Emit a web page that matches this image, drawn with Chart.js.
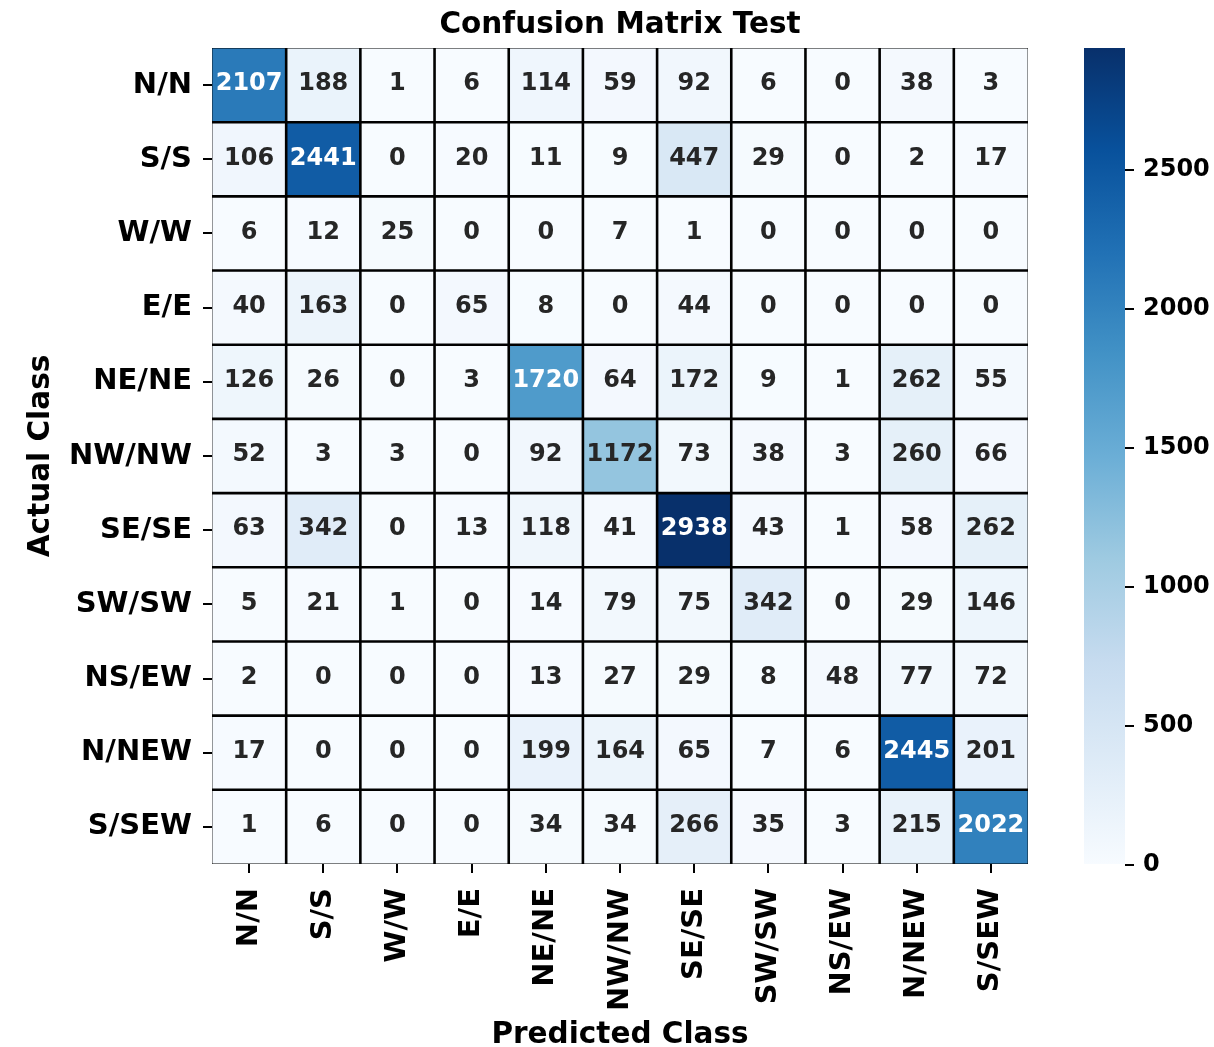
<!DOCTYPE html>
<html>
<head>
<meta charset="utf-8">
<script src="https://cdn.jsdelivr.net/npm/chart.js@4.4.1/dist/chart.umd.min.js"></script>
<style>
  html, body { margin: 0; padding: 0; background: #fff; }
  #wrap { position: relative; width: 1214px; height: 1047px; }
  #matrixChart { position: absolute; left: 0; top: 0; }
  #colorbarChart { position: absolute; left: 1040px; top: 0; }
</style>
</head>
<body>
<div id="wrap">
  <canvas id="matrixChart" width="1214" height="1047"></canvas>
  <canvas id="colorbarChart" width="174" height="1047"></canvas>
</div>
<script>
// Class names (same order for actual rows and predicted columns)
const classes = ['N/N', 'S/S', 'W/W', 'E/E', 'NE/NE', 'NW/NW', 'SE/SE', 'SW/SW', 'NS/EW', 'N/NEW', 'S/SEW'];

// Counts per actual class (one row each), columns = predicted class
const rowNN   = [2107, 188, 1, 6, 114, 59, 92, 6, 0, 38, 3];
const rowSS   = [106, 2441, 0, 20, 11, 9, 447, 29, 0, 2, 17];
const rowWW   = [6, 12, 25, 0, 0, 7, 1, 0, 0, 0, 0];
const rowEE   = [40, 163, 0, 65, 8, 0, 44, 0, 0, 0, 0];
const rowNENE = [126, 26, 0, 3, 1720, 64, 172, 9, 1, 262, 55];
const rowNWNW = [52, 3, 3, 0, 92, 1172, 73, 38, 3, 260, 66];
const rowSESE = [63, 342, 0, 13, 118, 41, 2938, 43, 1, 58, 262];
const rowSWSW = [5, 21, 1, 0, 14, 79, 75, 342, 0, 29, 146];
const rowNSEW = [2, 0, 0, 0, 13, 27, 29, 8, 48, 77, 72];
const rowNNEW = [17, 0, 0, 0, 199, 164, 65, 7, 6, 2445, 201];
const rowSSEW = [1, 6, 0, 0, 34, 34, 266, 35, 3, 215, 2022];

const matrix = [rowNN, rowSS, rowWW, rowEE, rowNENE, rowNWNW, rowSESE, rowSWSW, rowNSEW, rowNNEW, rowSSEW];

// Colorbar ticks
const cbarTicks = [0, 500, 1000, 1500, 2000, 2500];

// Blues colormap stops
const bluesStops = ['#f7fbff', '#deebf7', '#c6dbef', '#9ecae1', '#6baed6', '#4292c6', '#2171b5', '#08519c', '#08306b'];

const vMax = Math.max(...matrix.flat());
const nCls = classes.length;

Chart.defaults.font.family = "'DejaVu Sans', sans-serif";
Chart.defaults.font.weight = 'bold';
Chart.defaults.color = '#000';

const hexToRgb = h => [parseInt(h.slice(1, 3), 16), parseInt(h.slice(3, 5), 16), parseInt(h.slice(5, 7), 16)];

// Value -> rgb triplet on the Blues scale
const blues = (v) => {
    const t = Math.min(Math.max(v / vMax, 0), 1) * (bluesStops.length - 1);
    const i = Math.min(Math.floor(t), bluesStops.length - 2);
    const f = t - i;
    const a = hexToRgb(bluesStops[i]);
    const b = hexToRgb(bluesStops[i + 1]);
    return a.map((c, k) => Math.round(c + (b[k] - c) * f));
};
const rgbStr = c => `rgb(${c[0]},${c[1]},${c[2]})`;

// Relative luminance, used to pick the text colour like seaborn does
const luminance = (c) => {
    const l = c.map(x => {
        x /= 255;
        return x <= 0.03928 ? x / 12.92 : Math.pow((x + 0.055) / 1.055, 2.4);
    });
    return 0.2126 * l[0] + 0.7152 * l[1] + 0.0722 * l[2];
};

// Thick lines between cells, thin ones on the outer edge
const INNER = 1.9, OUTER = 1.0;
const cellBorder = (ctx) => {
    const row = ctx.datasetIndex, col = ctx.dataIndex;
    return {
        top: row === 0 ? OUTER : INNER,
        bottom: row === nCls - 1 ? OUTER : INNER,
        left: col === 0 ? OUTER : INNER,
        right: col === nCls - 1 ? OUTER : INNER
    };
};

// One stacked dataset per actual class, every cell is one unit tall
const datasets = matrix.map((row, i) => ({
    label: classes[i],
    data: row.map(() => 1),
    counts: row,
    backgroundColor: row.map(v => rgbStr(blues(v))),
    borderColor: '#000',
    borderWidth: cellBorder,
    borderSkipped: false,
    inflateAmount: 0.6,
    barPercentage: 1,
    categoryPercentage: 1
}));

// Write the count in the middle of each cell
const cellLabels = {
    id: 'cellLabels',
    afterDatasetsDraw(chart) {
        const ctx = chart.ctx;
        ctx.save();
        ctx.font = "bold 24px 'DejaVu Sans'";
        ctx.textAlign = 'center';
        ctx.textBaseline = 'middle';
        chart.data.datasets.forEach((ds, i) => {
            chart.getDatasetMeta(i).data.forEach((bar, j) => {
                const v = ds.counts[j];
                const {x, y, base} = bar.getProps(['x', 'y', 'base'], true);
                ctx.fillStyle = luminance(blues(v)) > 0.408 ? '#262626' : '#fff';
                ctx.fillText(String(v), x, (y + base) / 2 - 1);
            });
        });
        ctx.restore();
    }
};

const tickGrid = { offset: false, drawOnChartArea: false, color: '#000', lineWidth: 2, tickLength: 9 };

// Heatmap
new Chart(document.getElementById('matrixChart'), {
    type: 'bar',
    data: { labels: classes, datasets: datasets },
    options: {
        responsive: false,
        animation: false,
        events: [],
        layout: { padding: { left: 0, right: 186, top: 0, bottom: 0 } },
        plugins: {
            legend: { display: false },
            tooltip: { enabled: false },
            title: {
                display: true,
                fullSize: false,
                text: 'Confusion Matrix Test',
                color: '#000',
                font: { size: 29.5, weight: 'bold' },
                padding: { top: 7.3, bottom: 5.3 }
            }
        },
        scales: {
            x: {
                stacked: true,
                afterFit: s => { s.height = 183; },
                grid: tickGrid,
                border: { display: false },
                ticks: {
                    autoSkip: false,
                    minRotation: 90,
                    maxRotation: 90,
                    padding: 15,
                    color: '#000',
                    font: { size: 29, weight: 'bold' }
                },
                title: {
                    display: true,
                    text: 'Predicted Class',
                    color: '#000',
                    font: { size: 29.5, weight: 'bold', lineHeight: 0.8 },
                    padding: { top: 0, bottom: 0.2 }
                }
            },
            y: {
                stacked: true,
                min: 0,
                max: nCls,
                reverse: true,
                afterFit: s => { s.width = 212; },
                afterBuildTicks: s => { s.ticks = classes.map((c, i) => ({ value: i + 0.5 })); },
                grid: tickGrid,
                border: { display: false },
                ticks: {
                    padding: 11,
                    color: '#000',
                    font: { size: 29, weight: 'bold' },
                    callback: v => classes[Math.floor(v)]
                },
                title: {
                    display: true,
                    text: 'Actual Class',
                    color: '#000',
                    font: { size: 29.5, weight: 'bold', lineHeight: 1 },
                    padding: { top: 26.5, bottom: 0 }
                }
            }
        }
    },
    plugins: [cellLabels]
});

// Gradient for the colorbar, bottom = 0, top = vMax
const gradientFill = (context) => {
    const area = context.chart.chartArea;
    if (!area) return bluesStops[0];
    const g = context.chart.ctx.createLinearGradient(0, area.bottom, 0, area.top);
    bluesStops.forEach((c, i) => g.addColorStop(i / (bluesStops.length - 1), c));
    return g;
};

// Colorbar
new Chart(document.getElementById('colorbarChart'), {
    type: 'bar',
    data: {
        labels: [''],
        datasets: [{
            data: [vMax],
            backgroundColor: gradientFill,
            borderWidth: 0,
            inflateAmount: 0,
            barPercentage: 1,
            categoryPercentage: 1
        }]
    },
    options: {
        responsive: false,
        animation: false,
        events: [],
        layout: { padding: { left: 44, right: 0, top: 48, bottom: 182 } },
        plugins: { legend: { display: false }, tooltip: { enabled: false } },
        scales: {
            x: { display: false },
            y: {
                position: 'right',
                min: 0,
                max: vMax,
                afterFit: s => { s.width = 89; },
                afterBuildTicks: s => { s.ticks = cbarTicks.map(v => ({ value: v })); },
                grid: { drawOnChartArea: false, color: '#000', lineWidth: 2, tickLength: 9 },
                border: { display: false },
                ticks: {
                    padding: 9,
                    color: '#000',
                    font: { size: 24, weight: 'bold' },
                    callback: v => String(v)
                }
            }
        }
    }
});
</script>
</body>
</html>
